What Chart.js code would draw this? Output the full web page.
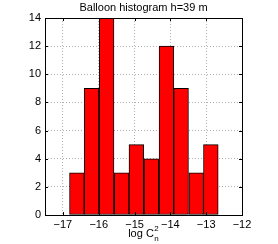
<!DOCTYPE html>
<html>
<head>
<meta charset="utf-8">
<script src="https://cdn.jsdelivr.net/npm/chart.js@4/dist/chart.umd.min.js"></script>
<style>
  html, body { margin: 0; padding: 0; background: #fff; }
  #wrap { width: 278px; height: 244px; }
</style>
</head>
<body>
<div id="wrap"><canvas id="hist" width="278" height="244"></canvas></div>
<script>
// bin centres (log Cn^2) and counts
const binCenters = [-16.61, -16.20, -15.78, -15.36, -14.95, -14.53, -14.11, -13.70, -13.28, -12.87];
const counts = [3, 9, 14, 3, 5, 4, 12, 9, 3, 5];
const xTicks = [-17, -16, -15, -14, -13, -12];
const yTicks = [0, 2, 4, 6, 8, 10, 12, 14];
const titleText = 'Balloon histogram h=39 m';

const FONT = "'Liberation Sans', Arial, sans-serif";
const minus = v => String(v).replace('-', '\u2212');

// title, box frame and the x label with sub/superscript
const extras = {
    id: 'extras',
    afterDraw(chart) {
        const ctx = chart.ctx;
        const a = chart.chartArea;
        ctx.save();
        ctx.strokeStyle = '#000';
        ctx.lineWidth = 1;
        ctx.strokeRect(Math.round(a.left) + 0.5, Math.round(a.top) + 0.5,
            Math.round(a.right - a.left), Math.round(a.bottom - a.top));

        // small inward tick marks
        const xs = chart.scales.x, ys = chart.scales.y;
        ctx.beginPath();
        xTicks.forEach(t => {
            const px = Math.round(xs.getPixelForValue(t)) + 0.5;
            ctx.moveTo(px, a.bottom); ctx.lineTo(px, a.bottom - 3);
            ctx.moveTo(px, a.top); ctx.lineTo(px, a.top + 3);
        });
        yTicks.forEach(t => {
            const py = Math.round(ys.getPixelForValue(t)) + 0.5;
            ctx.moveTo(a.left, py); ctx.lineTo(a.left + 3, py);
            ctx.moveTo(a.right, py); ctx.lineTo(a.right - 3, py);
        });
        ctx.stroke();

        ctx.fillStyle = '#000';
        ctx.textBaseline = 'middle';
        ctx.textAlign = 'center';
        ctx.font = '11px ' + FONT;
        ctx.fillText(titleText, (a.left + a.right) / 2, 8);

        // x label: log C_n^2
        const cx = (a.left + a.right) / 2;
        ctx.font = '11px ' + FONT;
        const main = 'log C';
        const w = ctx.measureText(main).width;
        ctx.textAlign = 'left';
        const x0 = cx - (w + 5) / 2;
        ctx.fillText(main, x0, 234);
        ctx.font = '8px ' + FONT;
        ctx.fillText('2', x0 + w + 0.5, 229);
        ctx.fillText('n', x0 + w + 0.5, 239);
        ctx.restore();
    }
};

new Chart(document.getElementById('hist'), {
    type: 'bar',
    data: {
        datasets: [{
            data: binCenters.map((c, i) => ({ x: c, y: counts[i] })),
            backgroundColor: '#ff0000',
            borderColor: '#000000',
            borderWidth: 1,
            borderSkipped: false,
            barPercentage: 1,
            categoryPercentage: 1
        }]
    },
    options: {
        responsive: false,
        animation: false,
        layout: { padding: { left: 0, right: 36, top: 18, bottom: 0 } },
        plugins: {
            legend: { display: false },
            tooltip: { enabled: false }
        },
        scales: {
            x: {
                type: 'linear',
                offset: false,
                min: -17.5,
                max: -12,
                afterBuildTicks: s => { s.ticks = xTicks.map(v => ({ value: v })); },
                afterFit: s => { s.height = 29; },
                grid: { color: '#b0b0b0', lineWidth: 1, drawTicks: false, offset: false },
                border: { display: false, dash: [1, 2] },
                ticks: {
                    padding: 3,
                    color: '#000',
                    font: { family: FONT, size: 11 },
                    callback: v => minus(v),
                    maxRotation: 0
                }
            },
            y: {
                min: 0,
                max: 14,
                afterBuildTicks: s => { s.ticks = yTicks.map(v => ({ value: v })); },
                afterFit: s => { s.width = 45; },
                grid: { color: '#b0b0b0', lineWidth: 1, drawTicks: false },
                border: { display: false, dash: [1, 2] },
                ticks: {
                    padding: 4,
                    color: '#000',
                    font: { family: FONT, size: 11 }
                }
            }
        }
    },
    plugins: [extras]
});
</script>
</body>
</html>
